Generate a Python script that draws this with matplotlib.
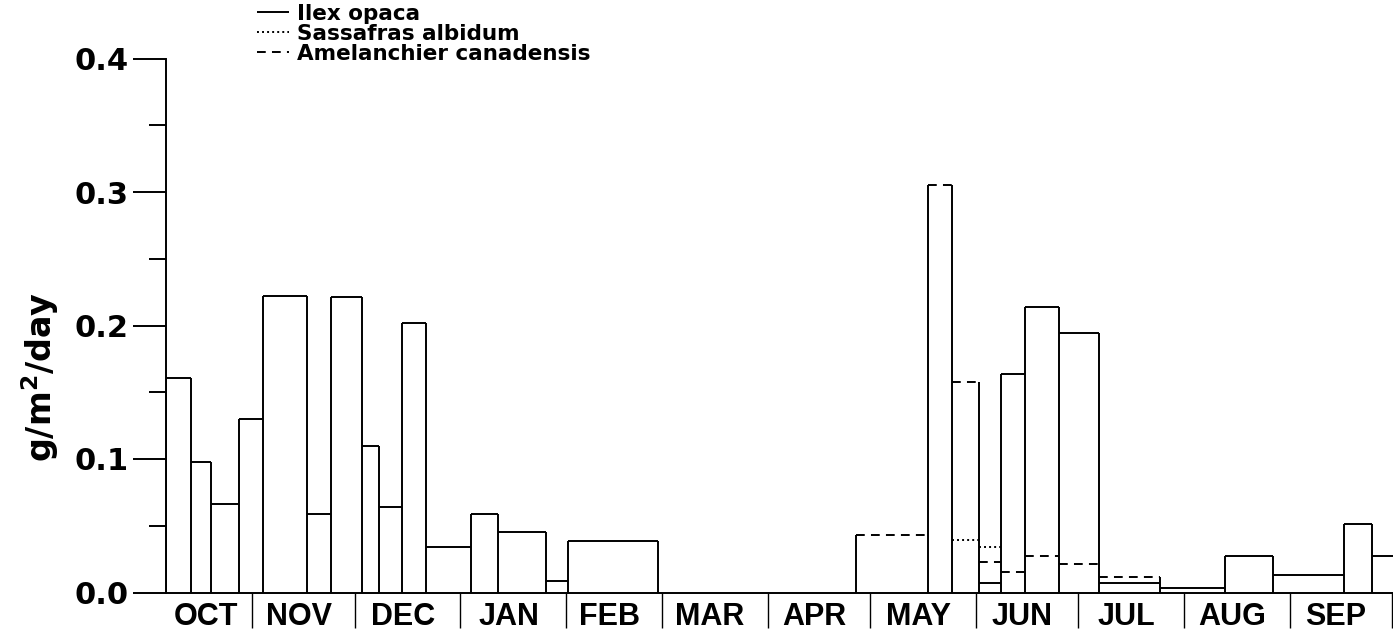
import numpy as np
import matplotlib
matplotlib.use("Agg")
import matplotlib.pyplot as plt

# Edges of the collection intervals, in days counted from 1 October
bin_edges = [5.7, 13, 19, 27, 34, 47, 54, 63, 68, 75, 82, 95, 103, 117, 123.5,
             150, 208, 229, 236, 244, 250.5, 257.5, 267.5, 279, 297, 316, 330,
             351, 359, 372]

nan = np.nan
# Litter fall (g/m2/day) per interval; nan = no value for that species
ilex_opaca = [0.161, 0.098, 0.066, 0.130, 0.222, 0.059, 0.221, 0.110, 0.064,
              0.202, 0.034, 0.059, 0.045, 0.0085, 0.0385, nan, nan, nan, nan,
              0.0073, 0.164, 0.2135, 0.1945, 0.007, 0.0035, 0.027, 0.013,
              0.051, 0.027]
sassafras_albidum = [nan] * 18 + [0.0395, 0.034] + [nan] * 9
amelanchier_canadensis = ([nan] * 16
                          + [0.0427, 0.3055, 0.158, 0.0232, 0.0152, 0.027,
                             0.0215, 0.0115]
                          + [nan] * 5)

species_names = ["Ilex opaca", "Sassafras albidum", "Amelanchier canadensis"]

month_names = ["OCT", "NOV", "DEC", "JAN", "FEB", "MAR", "APR", "MAY", "JUN",
               "JUL", "AUG", "SEP"]
month_days = [31, 30, 31, 31, 28, 31, 30, 31, 30, 31, 31, 30]

y_ticks = [0.0, 0.1, 0.2, 0.3, 0.4]
y_tick_labels = ["0.0", "0.1", "0.2", "0.3", "0.4"]
y_minor_ticks = [0.05, 0.15, 0.25, 0.35]

# ---------------------------------------------------------------------------
W, H = 1393, 633
fig = plt.figure(figsize=(W / 100, H / 100), dpi=100)
fig.patch.set_facecolor("white")

x0_px, y0_px, ytop_px = 166, 592.5, 58.5
ax = fig.add_axes([x0_px / W, (H - y0_px) / H, (W - x0_px) / W,
                   (y0_px - ytop_px) / H])
ax.set_xlim(5.7, 365.3)
ax.set_ylim(0, 0.4)

edges = np.asarray(bin_edges, dtype=float)
lo, hi = edges[:-1], edges[1:]
series = [np.asarray(ilex_opaca, float),
          np.asarray(sassafras_albidum, float),
          np.asarray(amelanchier_canadensis, float)]
styles = ["solid", (0, (1.0, 1.6)), (0, (4.5, 3.2))]
lw = 1.4

# horizontal tops of each interval, in the species' line style
for vals, ls, name in zip(series, styles, species_names):
    m = ~np.isnan(vals)
    ax.hlines(vals[m], lo[m], hi[m], colors="black", linestyles=ls,
              linewidth=lw, label=name, clip_on=True)

# solid vertical sides up to the tallest neighbouring value
stack = np.vstack(series)
nb = stack.shape[1]
vx, vh = [], []
for i, e in enumerate(edges):
    cols = [j for j in (i - 1, i) if 0 <= j < nb]
    cand = stack[:, cols]
    if np.all(np.isnan(cand)):
        continue
    vx.append(e)
    vh.append(np.nanmax(cand))
ax.vlines(vx, 0, vh, colors="black", linewidth=lw, clip_on=True)

# spines
for s in ("top", "right"):
    ax.spines[s].set_visible(False)
for s in ("left", "bottom"):
    ax.spines[s].set_linewidth(lw)

# y axis ticks
ax.set_yticks(y_ticks)
ax.set_yticks(y_minor_ticks, minor=True)
ax.set_yticklabels(y_tick_labels, fontfamily="DejaVu Sans",
                   fontweight="bold", fontsize=22)
ax.tick_params(axis="y", which="major", direction="out", length=24,
               width=lw, pad=3)
ax.tick_params(axis="y", which="minor", direction="out", length=12,
               width=lw)

# x axis: month boundaries as long ticks, names between them
bounds = np.cumsum(month_days)
starts = bounds - np.asarray(month_days)
centers = starts + np.asarray(month_days) / 2.0 - 1.4
centers[0] = (5.7 + bounds[0]) / 2.0 - 1.0
ax.set_xticks(bounds)
ax.set_xticklabels([])
ax.set_xticks(centers, minor=True)
ax.set_xticklabels(month_names, minor=True, fontfamily="Liberation Sans",
                   fontweight="bold", fontsize=22)
ax.tick_params(axis="x", which="major", direction="out", length=25,
               width=1.0)
ax.tick_params(axis="x", which="minor", length=0, pad=7)

# y axis title
fig.text(40 / W, 1 - 377 / H, r"g/m$^{\mathbf{2}}$/day", rotation=90,
         ha="center", va="center", fontsize=24, fontweight="bold",
         fontfamily="DejaVu Sans")

# legend
fig.legend(loc="upper left", bbox_to_anchor=(257 / W, 1 - 4 / H),
           frameon=False, handlelength=1.5, handletextpad=0.35,
           labelspacing=0.0, borderpad=0, borderaxespad=0,
           prop={"weight": "bold", "family": "DejaVu Sans", "size": 15.5})

fig.savefig("out.png", dpi=100, facecolor="white")
